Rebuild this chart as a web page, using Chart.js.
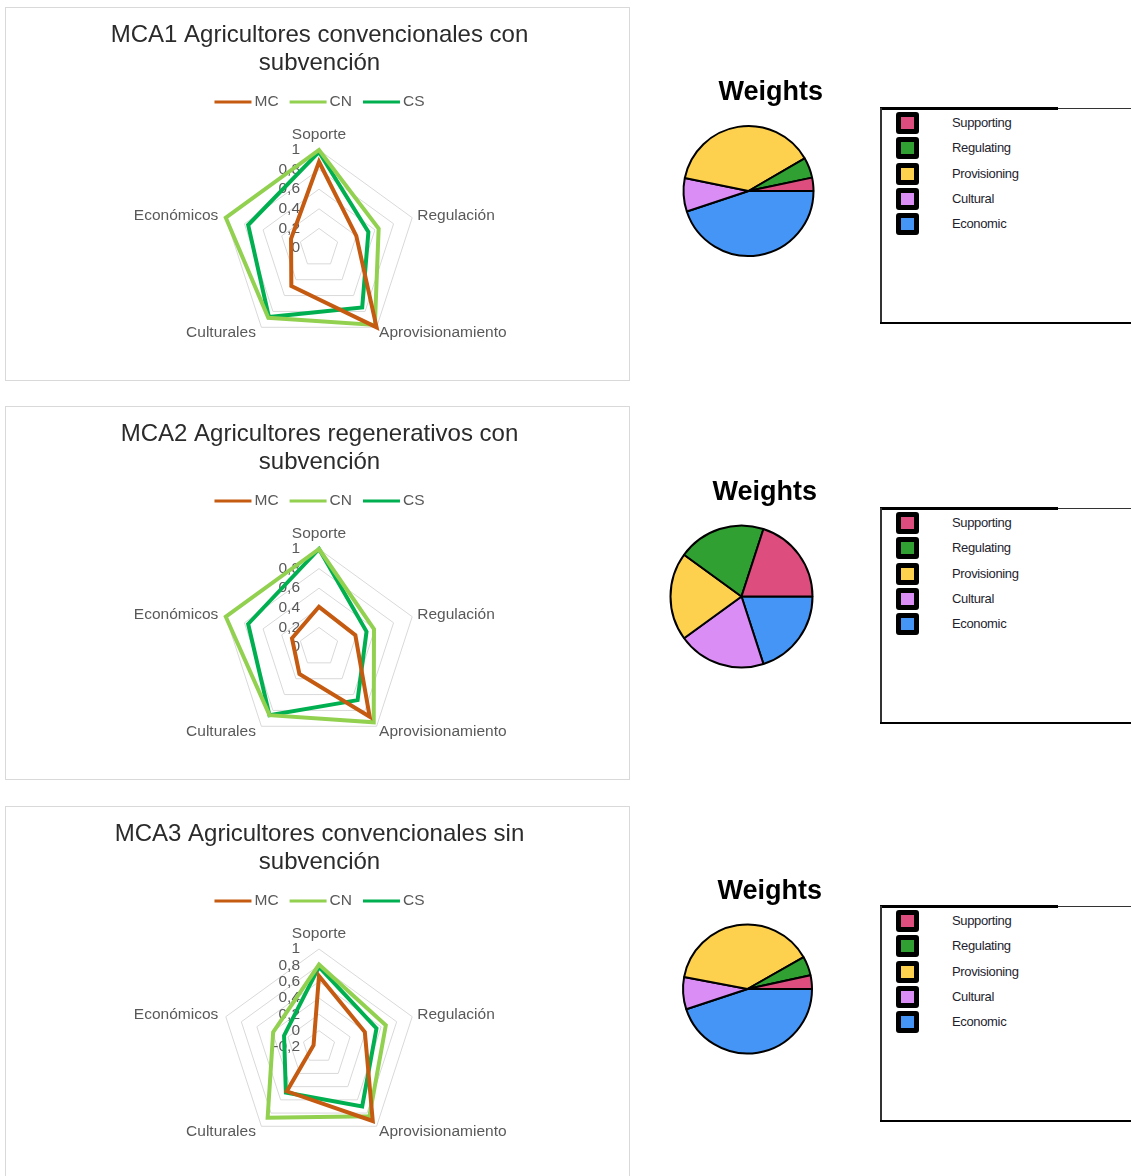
<!DOCTYPE html>
<html>
<head>
<meta charset="utf-8">
<script src="https://cdn.jsdelivr.net/npm/chart.js@4.4.1/dist/chart.umd.min.js"></script>
<style>
html,body{margin:0;padding:0;background:#fff;width:1131px;height:1176px;overflow:hidden;font-family:"Liberation Sans",Arial,sans-serif;}
.rbox{position:absolute;left:5px;width:625px;height:374px;border:1px solid #d9d9d9;box-sizing:border-box;background:#fff;}
.rin{position:absolute;left:0;top:0;width:623px;height:372px;}
.pbox{position:absolute;left:660px;width:200px;}
.lbox{position:absolute;left:880px;width:260px;height:216px;}
.ln{position:absolute;}
.item{position:absolute;left:16px;height:22px;width:200px;}
.sw{position:absolute;left:0;top:0;width:13px;height:12px;border:5px solid #000;border-radius:3px;}
.lt{position:absolute;left:56px;top:0;line-height:22px;font-size:13px;color:#1e1e2e;white-space:nowrap;letter-spacing:-0.35px;}
</style>
</head>
<body>
<div class="rbox" style="top:7px"><div class="rin"><canvas id="r1"></canvas></div></div>
<div class="rbox" style="top:406px"><div class="rin"><canvas id="r2"></canvas></div></div>
<div class="rbox" style="top:806px"><div class="rin"><canvas id="r3"></canvas></div></div>

<div class="pbox" style="top:70px;height:210px"><canvas id="p1"></canvas></div>
<div class="pbox" style="top:470px;height:230px"><canvas id="p2"></canvas></div>
<div class="pbox" style="top:870px;height:210px"><canvas id="p3"></canvas></div>

<div class="lbox" id="l1" style="top:108px"></div>
<div class="lbox" id="l2" style="top:508px"></div>
<div class="lbox" id="l3" style="top:906px"></div>

<script>
// ---------- DATA ----------
const axisLabels = ['Soporte', 'Regulación', 'Aprovisionamiento', 'Culturales', 'Económicos'];
const seriesNames = ['MC', 'CN', 'CS'];

const title1 = ['MCA1 Agricultores convencionales con', 'subvención'];
const mc1 = [0.88, 0.40, 1.00, 0.48, 0.30];
const cn1 = [1.00, 0.64, 0.97, 0.88, 1.00];
const cs1 = [0.98, 0.53, 0.75, 0.87, 0.76];
const ticks1 = ['0', '0,2', '0,4', '0,6', '0,8', '1'];

const title2 = ['MCA2 Agricultores regenerativos con', 'subvención'];
const mc2 = [0.41, 0.39, 0.88, 0.34, 0.29];
const cn2 = [1.00, 0.59, 0.95, 0.86, 1.00];
const cs2 = [1.00, 0.51, 0.67, 0.86, 0.76];
const ticks2 = ['0', '0,2', '0,4', '0,6', '0,8', '1'];

const title3 = ['MCA3 Agricultores convencionales sin', 'subvención'];
const mc3 = [0.67, 0.39, 0.92, 0.47, -0.13];
const cn3 = [0.81, 0.66, 0.85, 0.87, 0.39];
const cs3 = [0.78, 0.54, 0.70, 0.49, 0.25];
const ticks3 = ['-0,2', '0', '0,2', '0,4', '0,6', '0,8', '1'];

const pieTitle = 'Weights';
const pieLabels = ['Supporting', 'Regulating', 'Provisioning', 'Cultural', 'Economic'];
const weights1 = [3.3, 5.1, 38.4, 8.3, 44.9];
const weights2 = [20, 20, 20, 20, 20];
const weights3 = [3.4, 4.8, 38.8, 8.1, 44.9];

// ---------- STYLE ----------
const FONT = "'Liberation Sans', Arial, sans-serif";
const seriesColors = ['#C55A11', '#92D050', '#00B050'];
const pieColors = ['#DD4E7E', '#31A033', '#FDD14E', '#DA8DF5', '#4495F5'];
const textGrey = '#595959';
// label placement relative to each axis end-point: dx, dy, align
const labelOffsets = [
  {dx: 0, dy: -15, align: 'center'},
  {dx: 5, dy: -1.5, align: 'left'},
  {dx: 2.5, dy: 5.5, align: 'left'},
  {dx: -5.5, dy: 5.5, align: 'right'},
  {dx: -7.5, dy: -1.5, align: 'right'}
];

const radarDeco = {
  id: 'radarDeco',
  beforeDatasetsDraw(chart, args, opts) {
    const s = chart.scales.r, ctx = chart.ctx;
    ctx.save();
    ctx.font = '15.5px ' + FONT;
    ctx.fillStyle = textGrey;
    ctx.textAlign = 'right';
    ctx.textBaseline = 'middle';
    opts.tickLabels.forEach(t => {
      const v = parseFloat(t.replace(',', '.'));
      const d = s.getDistanceFromCenterForValue(v);
      ctx.fillText(t, s.xCenter - 19, s.yCenter - d);
    });
    ctx.restore();
  },
  afterDraw(chart) {
    const s = chart.scales.r, ctx = chart.ctx;
    ctx.save();
    ctx.font = '15.5px ' + FONT;
    ctx.fillStyle = textGrey;
    ctx.textBaseline = 'middle';
    chart.data.labels.forEach((lab, i) => {
      const p = s.getPointPosition(i, s.drawingArea);
      const o = labelOffsets[i];
      ctx.textAlign = o.align;
      ctx.fillText(lab, p.x + o.dx, p.y + o.dy);
    });
    // legend (line samples)
    const lineLen = 37, gapT = 3, gapI = 11, y = 94;
    const items = chart.data.datasets.map(d => ({t: d.label, c: d.borderColor, w: ctx.measureText(d.label).width}));
    let total = 0;
    items.forEach((it, i) => { total += lineLen + gapT + it.w + (i < items.length - 1 ? gapI : 0); });
    let x = (chart.chartArea.left + chart.chartArea.right) / 2 - total / 2;
    ctx.textAlign = 'left';
    items.forEach(it => {
      ctx.strokeStyle = it.c;
      ctx.lineWidth = 3;
      ctx.beginPath();
      ctx.moveTo(x, y);
      ctx.lineTo(x + lineLen, y);
      ctx.stroke();
      x += lineLen + gapT;
      ctx.fillStyle = textGrey;
      ctx.fillText(it.t, x, y);
      x += it.w + gapI;
    });
    ctx.restore();
  }
};

function radarChart(id, title, mc, cn, cs, tickLabels) {
  const tickVals = tickLabels.map(t => parseFloat(t.replace(',', '.')));
  const series = [mc, cn, cs];
  new Chart(document.getElementById(id), {
    type: 'radar',
    data: {
      labels: axisLabels,
      datasets: series.map((d, i) => ({
        label: seriesNames[i], data: d,
        borderColor: seriesColors[i], backgroundColor: seriesColors[i],
        borderWidth: 4, fill: false, pointRadius: 0, pointHoverRadius: 0, tension: 0
      }))
    },
    options: {
      responsive: true, maintainAspectRatio: false, animation: false,
      layout: {padding: {left: 4, right: 0, top: 0, bottom: 34}},
      plugins: {
        legend: {display: false},
        tooltip: {enabled: false},
        title: {display: true, text: title, color: '#2b2b2b',
          font: {family: FONT, size: 24, weight: 'normal', lineHeight: '28px'},
          padding: {top: 13, bottom: 73}},
        radarDeco: {tickLabels: tickLabels}
      },
      scales: {
        r: {
          min: tickVals[0], max: tickVals[tickVals.length - 1],
          ticks: {display: false, stepSize: 0.2},
          grid: {color: '#d9d9d9', lineWidth: 1},
          angleLines: {display: false},
          pointLabels: {display: false}
        }
      }
    },
    plugins: [radarDeco]
  });
}

function pieChart(id, weights, g) {
  new Chart(document.getElementById(id), {
    type: 'pie',
    data: {
      labels: pieLabels.slice().reverse(),
      datasets: [{
        data: weights.slice().reverse(),
        backgroundColor: pieColors.slice().reverse(),
        borderColor: '#000', borderWidth: 2, radius: g.r
      }]
    },
    options: {
      responsive: true, maintainAspectRatio: false, animation: false,
      rotation: 90,
      layout: {padding: {left: g.pl, right: g.pr, top: 0, bottom: g.pb}},
      plugins: {
        legend: {display: false},
        tooltip: {enabled: false},
        title: {display: true, text: pieTitle, align: 'end', color: '#000',
          font: {family: FONT, size: 27, weight: 'bold', lineHeight: '30px'},
          padding: {top: g.pt + 2, bottom: 8}}
      }
    }
  });
}

function legendBox(id) {
  const box = document.getElementById(id);
  const lines = [
    'left:0;top:0;width:260px;height:1px;background:#333',
    'left:0;top:-1px;width:178px;height:3px;background:#000',
    'left:0;top:0;width:2px;height:216px;background:#333',
    'left:0;top:214px;width:260px;height:2px;background:#000'
  ];
  lines.forEach(st => { const d = document.createElement('div'); d.className = 'ln'; d.style.cssText = st; box.appendChild(d); });
  pieLabels.forEach((lab, i) => {
    const it = document.createElement('div');
    it.className = 'item';
    it.style.top = (4 + i * 25.3) + 'px';
    const sw = document.createElement('div'); sw.className = 'sw'; sw.style.background = pieColors[i];
    const t = document.createElement('div'); t.className = 'lt'; t.textContent = lab;
    it.appendChild(sw); it.appendChild(t); box.appendChild(it);
  });
}

radarChart('r1', title1, mc1, cn1, cs1, ticks1);
radarChart('r2', title2, mc2, cn2, cs2, ticks2);
radarChart('r3', title3, mc3, cn3, cs3, ticks3);

pieChart('p1', weights1, {pl: 14, pr: 37, pt: 6, pb: 14, r: 65});
pieChart('p2', weights2, {pl: 6, pr: 43, pt: 6, pb: 23, r: 71});
pieChart('p3', weights3, {pl: 13, pr: 38, pt: 5, pb: 17, r: 64.5});

legendBox('l1');
legendBox('l2');
legendBox('l3');
</script>
</body>
</html>
